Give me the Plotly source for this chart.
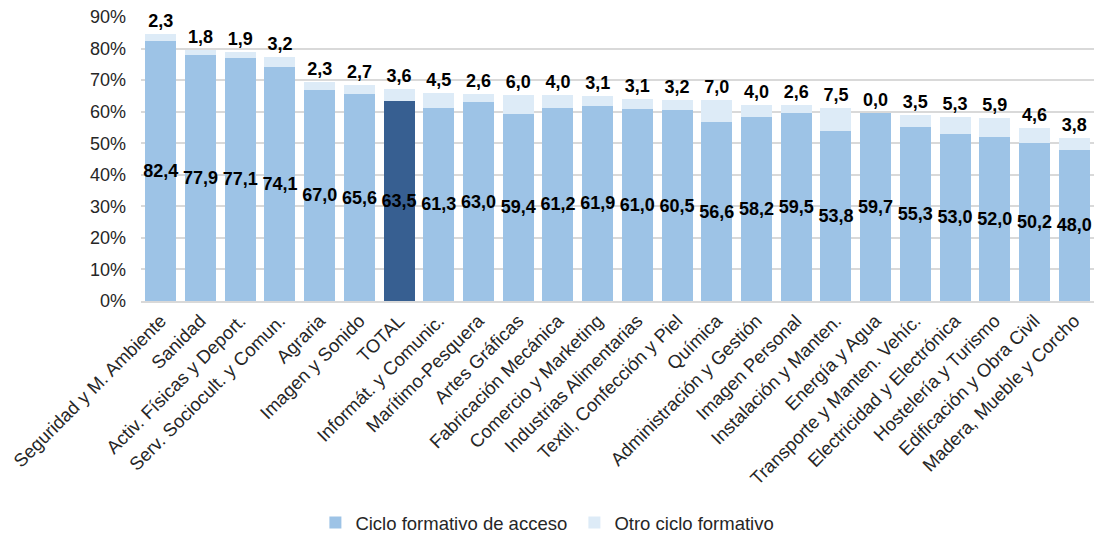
import plotly.graph_objects as go

categories = ["Seguridad y M. Ambiente", "Sanidad", "Activ. Físicas y Deport.", "Serv. Sociocult. y Comun.",
              "Agraria", "Imagen y Sonido", "TOTAL", "Informát. y Comunic.", "Marítimo-Pesquera",
              "Artes Gráficas", "Fabricación Mecánica", "Comercio y Marketing", "Industrias Alimentarias",
              "Textil, Confección y Piel", "Química", "Administración y Gestión", "Imagen Personal",
              "Instalación y Manten.", "Energía y Agua", "Transporte y Manten. Vehíc.",
              "Electricidad y Electrónica", "Hostelería y Turismo", "Edificación y Obra Civil",
              "Madera, Mueble y Corcho"]
acceso = [82.4, 77.9, 77.1, 74.1, 67.0, 65.6, 63.5, 61.3, 63.0, 59.4, 61.2, 61.9, 61.0, 60.5,
          56.6, 58.2, 59.5, 53.8, 59.7, 55.3, 53.0, 52.0, 50.2, 48.0]
otro = [2.3, 1.8, 1.9, 3.2, 2.3, 2.7, 3.6, 4.5, 2.6, 6.0, 4.0, 3.1, 3.1, 3.2,
        7.0, 4.0, 2.6, 7.5, 0.0, 3.5, 5.3, 5.9, 4.6, 3.8]

def fmt(v):
    return f"{v:.1f}".replace(".", ",")

light = "#9DC3E6"
dark = "#375F91"
pale = "#DDEBF7"
colors1 = [dark if c == "TOTAL" else light for c in categories]
FONT = "Liberation Sans, Arial"

fig = go.Figure()
fig.add_trace(go.Bar(
    x=categories, y=acceso, name="Ciclo formativo de acceso",
    marker=dict(color=colors1, line=dict(width=0)),
    text=[fmt(v) for v in acceso], textposition="inside", insidetextanchor="middle",
    textangle=0, constraintext="none", cliponaxis=False,
    textfont=dict(family=FONT, size=18, color="black", weight="bold"),
))
fig.add_trace(go.Bar(
    x=categories, y=otro, name="Otro ciclo formativo",
    marker=dict(color=pale, line=dict(width=0)),
    text=[fmt(v) for v in otro], textposition="outside",
    textangle=0, constraintext="none", cliponaxis=False,
    textfont=dict(family=FONT, size=18, color="black", weight="bold"),
))
fig.update_layout(
    barmode="stack", bargap=0.22,
    width=1096, height=543,
    margin=dict(l=141, r=2, t=17, b=241),
    paper_bgcolor="white", plot_bgcolor="white",
    font=dict(family=FONT, size=18, color="#262626"),
    showlegend=True,
    legend=dict(orientation="h", x=0.183, xanchor="left", y=-0.842, yanchor="bottom",
                entrywidth=214, font=dict(size=18.5, color="#262626"), traceorder="normal"),
    xaxis=dict(tickangle=-45, showline=True, linecolor="#D9D9D9", linewidth=1.5,
               ticks="", automargin=False, tickfont=dict(size=18.5, color="#262626")),
    yaxis=dict(range=[0, 90], dtick=10, ticksuffix="%", showgrid=True, gridcolor="#D9D9D9",
               gridwidth=1.5, zeroline=False, automargin=False, ticklabeloverflow="allow",
               tickfont=dict(size=18, color="#262626"), ticklabelstandoff=14),
)
post = ("var s=document.documentElement.style;s.margin='0';s.padding='0';s.overflow='hidden';"
        "s.height='543px';var b=document.body.style;b.margin='0';b.padding='0';"
        "b.overflow='hidden';b.height='543px';")
fig.write_html("out.html", config={"displayModeBar": False}, post_script=post)
